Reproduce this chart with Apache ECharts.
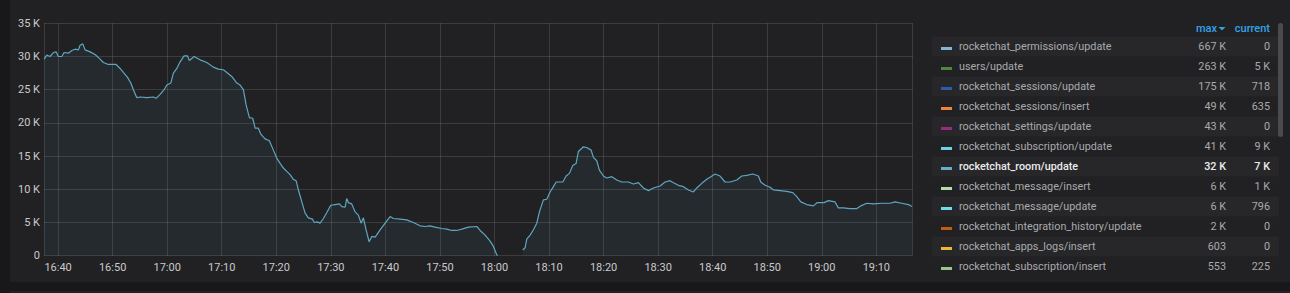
<!DOCTYPE html>
<html>
<head>
<meta charset="utf-8">
<script src="https://cdn.jsdelivr.net/npm/echarts@6/dist/echarts.min.js"></script>
<style>
html,body{margin:0;padding:0;background:#18181a;}
#chart{width:1290px;height:293px;}
</style>
</head>
<body>
<div id="chart"></div>
<script>
// ---- data ----
const times = [
 "16:37:26","16:37:56","16:38:32","16:39:08","16:39:38","16:40:03","16:40:41","16:41:06","16:41:53","16:42:31",
 "16:43:07","16:43:43","16:44:02","16:44:32","16:44:57","16:45:52","16:46:47","16:47:42","16:48:18","16:49:13",
 "16:50:38","16:51:22","16:51:58","16:52:42","16:53:20","16:53:48","16:54:26","16:55:02","16:56:16","16:57:28",
 "16:57:58","16:58:42","16:59:26","16:59:56","17:00:40","17:01:08","17:01:46","17:02:22","17:03:06","17:03:42",
 "17:04:04","17:04:56","17:06:02","17:07:16","17:08:28","17:09:23","17:10:18","17:10:56","17:11:50","17:12:46",
 "17:13:22","17:13:58","17:14:28","17:15:04","17:15:41","17:16:07","17:16:43","17:17:10","17:17:57","17:18:44",
 "17:19:28","17:20:05","17:20:42","17:21:18","17:21:55","17:22:32","17:23:08","17:23:38","17:24:03","17:24:41",
 "17:25:17","17:25:53","17:26:37","17:26:59","17:27:29","17:28:02","17:28:38","17:29:16","17:29:59","17:30:47",
 "17:31:34","17:32:01","17:32:37","17:32:55","17:33:13","17:33:50","17:34:27","17:35:03","17:35:33","17:35:58",
 "17:36:28","17:37:01","17:37:31","17:38:07","17:39:02","17:39:57","17:40:52","17:41:28","17:42:41","17:43:55",
 "17:45:08","17:46:22","17:47:17","17:48:11","17:49:07","17:50:20","17:51:16","17:52:10","17:53:05","17:54:01",
 "17:55:13","17:56:46","17:57:22","17:58:17","17:59:12","17:59:48","18:00:17","18:00:32","18:02:50","18:05:11",
 "18:05:37","18:05:55","18:06:32","18:07:08","18:07:45","18:08:14","18:08:58","18:09:35","18:10:11","18:10:48",
 "18:11:18","18:12:31","18:13:08","18:13:44","18:14:21","18:14:58","18:15:23","18:16:18","18:16:55","18:17:43",
 "18:18:08","18:18:45","18:19:14","18:19:58","18:20:35","18:21:30","18:22:25","18:23:20","18:24:33","18:25:28",
 "18:26:23","18:27:18","18:28:13","18:29:08","18:30:22","18:31:16","18:32:11","18:32:48","18:33:43","18:34:38",
 "18:35:33","18:36:28","18:37:05","18:38:00","18:38:55","18:39:31","18:40:26","18:41:21","18:42:16","18:43:11",
 "18:44:25","18:45:20","18:46:15","18:47:21","18:48:23","18:48:49","18:49:37","18:50:31","18:51:08","18:52:22",
 "18:53:35","18:54:41","18:55:25","18:56:09","18:57:15","18:58:28","18:59:11","19:00:25","19:01:13","19:02:26",
 "19:03:02","19:03:58","19:05:11","19:06:25","19:07:09","19:08:15","19:09:28","19:11:00","19:12:31","19:13:26",
 "19:14:40","19:15:53","19:16:31"
];
const roomUpdate = [
 29600,30200,30000,30600,30700,30000,30000,30600,30500,30900,
 31100,31000,31700,31900,31000,30700,30300,29600,29100,28800,
 28800,28200,27600,26900,26000,25000,23800,23900,23800,23900,
 23700,24300,25000,25700,26000,27500,28200,29200,30100,30100,
 29400,30000,29500,29100,28400,28100,28000,27600,27000,26000,
 25700,25000,22700,20800,20700,19200,19200,18300,17600,17300,
 15900,14700,13900,13200,12700,12200,11500,11300,9900,8100,
 6400,5700,5500,5000,5100,4900,5600,6500,7600,7700,
 7800,7400,7300,8600,8000,7800,6600,6100,4900,5700,
 3900,2100,2900,2800,3900,4900,5900,5600,5500,5400,
 5000,4500,4400,4500,4300,4100,4000,3800,3800,4000,
 4300,4400,3800,3100,2200,1400,400,0,null,860,
 1200,2500,3100,3900,4900,6600,8400,8500,9600,10400,
 11100,11100,12000,12400,13600,13900,15700,16400,16300,15900,
 14800,14300,12900,12000,11700,11900,11400,11100,11100,10800,
 11000,10200,9800,10200,10500,11100,11300,11000,10600,10400,
 9900,9600,10200,10900,11500,11800,12300,12000,11100,11100,
 11400,12000,12100,12300,12000,11100,10600,10300,9900,9800,
 9700,9500,8900,8100,7700,7500,8000,8000,8300,8100,
 7200,7200,7100,7100,7500,7900,7800,7900,7900,8100,
 7900,7700,7400
];
const timeRange = ["16:37:25", "19:16:40"];
const yTicks = [0, 5000, 10000, 15000, 20000, 25000, 30000, 35000];

const legendNames = [
 "rocketchat_permissions/update","users/update","rocketchat_sessions/update","rocketchat_sessions/insert",
 "rocketchat_settings/update","rocketchat_subscription/update","rocketchat_room/update","rocketchat_message/insert",
 "rocketchat_message/update","rocketchat_integration_history/update","rocketchat_apps_logs/insert","rocketchat_subscription/insert"
];
const legendMax = ["667 K","263 K","175 K","49 K","43 K","41 K","32 K","6 K","6 K","2 K","603","553"];
const legendCurrent = ["0","5 K","718","635","0","9 K","7 K","1 K","796","0","0","225"];
const legendColors = ["#82B5D8","#508642","#2B5EA8","#EF843C","#962D82","#6ED0E0","#64B0C8","#B7DBAB","#70DBED","#C15C17","#EAB839","#9AC48A"];
const selectedIndex = 6;
const legendHeaders = ["max", "current"];

// ---- build ----
function ts(s){ const p = s.split(":").map(Number); return Date.UTC(2021,0,1,p[0],p[1],p[2]); }
const seriesData = times.map((t,i)=>[ts(t), roomUpdate[i]]);

const FONT = 'Roboto, "Noto Sans", sans-serif';
const LFS = '10.8px ';
const graphics = [];
// backgrounds
graphics.push({type:'rect', z:-10, silent:true, shape:{x:0,y:0,width:1290,height:293}, style:{fill:'#18181a'}});
graphics.push({type:'rect', z:-9, silent:true, shape:{x:10,y:0,width:1280,height:282}, style:{fill:'#212124'}});
graphics.push({type:'rect', z:-9, silent:true, shape:{x:10,y:291,width:1280,height:2}, style:{fill:'#212124'}});

const rowTop = 36.5, rowH = 20;
legendNames.forEach((name,i)=>{
  const cy = rowTop + i*rowH + rowH/2;
  if (i % 2 === 0) {
    graphics.push({type:'rect', z:-8, silent:true, shape:{x:932,y:rowTop+i*rowH,width:347,height:rowH}, style:{fill:'#27272a'}});
  }
  const sel = i === selectedIndex;
  const col = sel ? '#ececec' : '#a9aaac';
  const fw = sel ? 500 : 400;
  graphics.push({type:'rect', silent:true, shape:{x:941,y:cy+0.5,width:11,height:3}, style:{fill:legendColors[i]}});
  graphics.push({type:'text', silent:true, x:959, y:cy, style:{text:name, fill:col, font:fw+' '+LFS+FONT, textVerticalAlign:'middle', textAlign:'left'}});
  graphics.push({type:'text', silent:true, x:1226, y:cy, style:{text:legendMax[i], fill:col, font:fw+' '+LFS+FONT, textVerticalAlign:'middle', textAlign:'right'}});
  graphics.push({type:'text', silent:true, x:1270, y:cy, style:{text:legendCurrent[i], fill:col, font:fw+' '+LFS+FONT, textVerticalAlign:'middle', textAlign:'right'}});
});
graphics.push({type:'text', silent:true, x:1217, y:28.5, style:{text:legendHeaders[0], fill:'#33a2e5', font:'500 11px '+FONT, textVerticalAlign:'middle', textAlign:'right'}});
graphics.push({type:'polygon', silent:true, shape:{points:[[1218.5,27],[1225.5,27],[1222,30.5]]}, style:{fill:'#33a2e5'}});
graphics.push({type:'text', silent:true, x:1270, y:28.5, style:{text:legendHeaders[1], fill:'#33a2e5', font:'500 11px '+FONT, textVerticalAlign:'middle', textAlign:'right'}});
// scrollbar
graphics.push({type:'rect', silent:true, shape:{x:1278,y:23,width:5,height:114,r:2.5}, style:{fill:'#4b4b4f'}});

const gridColor = 'rgba(255,255,255,0.12)';
const option = {
  animation: false,
  backgroundColor: 'transparent',
  textStyle: {fontFamily: FONT},
  grid: {left:44, right:377.3, top:23.3, bottom:37.3, containLabel:false},
  xAxis: {
    type:'time', min: ts(timeRange[0]), max: ts(timeRange[1]),
    minInterval: 660000, maxInterval: 660000,
    axisLine:{show:false}, axisTick:{show:false},
    axisLabel:{formatter:'{HH}:{mm}', color:'#c9cacc', fontSize:11, fontFamily:FONT, margin:6,
      showMinLabel:false, showMaxLabel:false, hideOverlap:false},
    splitLine:{show:true, lineStyle:{color:gridColor, width:1}}
  },
  yAxis: {
    type:'value', min: yTicks[0], max: yTicks[yTicks.length-1], interval: yTicks[1]-yTicks[0],
    axisLine:{show:false}, axisTick:{show:false},
    axisLabel:{formatter: v => v === 0 ? '0' : (v/1000) + ' K', color:'#c9cacc', fontSize:11, fontFamily:FONT, margin:4},
    splitLine:{show:true, lineStyle:{color:gridColor, width:1}}
  },
  series: [{
    name: legendNames[selectedIndex], type:'line', data: seriesData, showSymbol:false, connectNulls:false,
    lineStyle:{color:'#5fa6c0', width:1.2}, itemStyle:{color:'#5fa6c0'},
    areaStyle:{color:'rgba(100,176,200,0.10)'}
  }],
  graphic: graphics
};
const chart = echarts.init(document.getElementById('chart'), null, {renderer:'svg'});
chart.setOption(option);
</script>
</body>
</html>
